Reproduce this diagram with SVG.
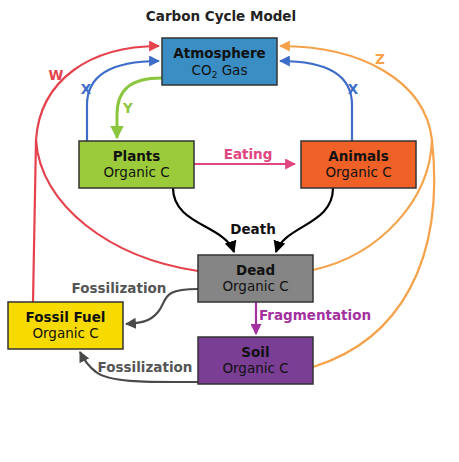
<svg xmlns="http://www.w3.org/2000/svg" width="459" height="462" viewBox="0 0 459 462">
<style>
text{font-family:"DejaVu Sans","Verdana",sans-serif;font-size:13.5px;text-anchor:middle}
.b{font-weight:bold}
.box{stroke:#333;stroke-width:1.5}
.c{fill:none;stroke-width:2.2}
</style>
<defs>
<marker id="mRed" viewBox="0 0 10 10" refX="9" refY="5" markerWidth="5" markerHeight="5" orient="auto" markerUnits="strokeWidth"><path d="M0,0L10,5L0,10z" fill="#E5424D"/></marker>
<marker id="mBlue" viewBox="0 0 10 10" refX="9" refY="5" markerWidth="5" markerHeight="5" orient="auto" markerUnits="strokeWidth"><path d="M0,0L10,5L0,10z" fill="#3D6DC8"/></marker>
<marker id="mGreen" viewBox="0 0 10 10" refX="9" refY="5" markerWidth="4.5" markerHeight="4.5" orient="auto" markerUnits="strokeWidth"><path d="M0,0L10,5L0,10z" fill="#8CC63F"/></marker>
<marker id="mOrange" viewBox="0 0 10 10" refX="9" refY="5" markerWidth="5" markerHeight="5" orient="auto" markerUnits="strokeWidth"><path d="M0,0L10,5L0,10z" fill="#F5A24A"/></marker>
<marker id="mPink" viewBox="0 0 10 10" refX="9" refY="5" markerWidth="5" markerHeight="5" orient="auto" markerUnits="strokeWidth"><path d="M0,0L10,5L0,10z" fill="#E0467F"/></marker>
<marker id="mBlack" viewBox="0 0 10 10" refX="9" refY="5" markerWidth="5.5" markerHeight="5.5" orient="auto" markerUnits="strokeWidth"><path d="M0,0L10,5L0,10z" fill="#000"/></marker>
<marker id="mGray" viewBox="0 0 10 10" refX="9" refY="5" markerWidth="5" markerHeight="5" orient="auto" markerUnits="strokeWidth"><path d="M0,0L10,5L0,10z" fill="#4A4A4A"/></marker>
<marker id="mPurple" viewBox="0 0 10 10" refX="9" refY="5" markerWidth="5" markerHeight="5" orient="auto" markerUnits="strokeWidth"><path d="M0,0L10,5L0,10z" fill="#A3319F"/></marker>
</defs>
<rect width="459" height="462" fill="#fff"/>
<text id="title" class="b" x="221" y="21" fill="#222">Carbon Cycle Model</text>
<g id="connectors">
  <path class="c" stroke="#E5424D" d="M33,302 L36,140 C40,80 90,46 159,46" marker-end="url(#mRed)"/>
  <path class="c" stroke="#E5424D" d="M198,271 C110,258 40,205 36,140"/>
  <text class="b" x="56" y="80" fill="#E5424D">W</text>
  <path class="c" stroke="#3D6DC8" d="M87,141 L87,105 C87,76 110,61 159,61" marker-end="url(#mBlue)"/>
  <path class="c" stroke="#3D6DC8" d="M352,141 L352,105 C352,76 329,61 280,61" marker-end="url(#mBlue)"/>
  <text class="b" x="86" y="94" fill="#3D6DC8">X</text>
  <text class="b" x="353" y="94" fill="#3D6DC8">X</text>
  <path fill="none" stroke="#8CC63F" stroke-width="3" d="M162,78 C130,78 117,90 117,115 L117,138" marker-end="url(#mGreen)"/>
  <text class="b" x="128" y="113" fill="#8CC63F">Y</text>
  <path class="c" stroke="#F5A24A" d="M432,140 C425,80 360,46 280,46" marker-end="url(#mOrange)"/>
  <path class="c" stroke="#F5A24A" d="M313,270 C380,255 430,200 432,140"/>
  <path class="c" stroke="#F5A24A" d="M313,367 C400,340 445,260 432,140"/>
  <text class="b" x="380" y="64" fill="#F5A24A">Z</text>
  <path class="c" stroke="#E0467F" d="M194,164 L295,164" marker-end="url(#mPink)"/>
  <text class="b" x="248" y="159" fill="#E0467F">Eating</text>
  <path class="c" stroke="#000" d="M173,188 C173,225 225,225 234,252" marker-end="url(#mBlack)"/>
  <path class="c" stroke="#000" d="M333,188 C333,225 285,225 276,252" marker-end="url(#mBlack)"/>
  <text class="b" x="253" y="234" fill="#111">Death</text>
  <path class="c" stroke="#4A4A4A" d="M198,289 C160,289 168,300 158,312 C150,322 140,323 126,324" marker-end="url(#mGray)"/>
  <text class="b" x="119" y="293" fill="#555">Fossilization</text>
  <path class="c" stroke="#A3319F" d="M256,302 L256,334" marker-end="url(#mPurple)"/>
  <text class="b" x="315" y="320" fill="#A3319F">Fragmentation</text>
  <path class="c" stroke="#4A4A4A" d="M198,382 C150,382 110,383 96,372 C88,366 84,360 80,352" marker-end="url(#mGray)"/>
  <text class="b" x="145" y="372" fill="#555">Fossilization</text>
</g>
<g id="atmosphere">
  <rect class="box" x="162" y="38" width="115" height="47" fill="#3A8EC3"/>
  <text class="b" x="219.5" y="58" fill="#111">Atmosphere</text>
  <text x="219.5" y="75" fill="#111">CO<tspan font-size="9" dy="3">2</tspan><tspan dy="-3"> Gas</tspan></text>
</g>
<g id="plants">
  <rect class="box" x="79" y="141" width="115" height="47" fill="#9BCB3B"/>
  <text class="b" x="136.5" y="161" fill="#111">Plants</text>
  <text x="136.5" y="177" fill="#111">Organic C</text>
</g>
<g id="animals">
  <rect class="box" x="301" y="141" width="115" height="47" fill="#EF6127"/>
  <text class="b" x="358.5" y="161" fill="#111">Animals</text>
  <text x="358.5" y="177" fill="#111">Organic C</text>
</g>
<g id="dead">
  <rect class="box" x="198" y="255" width="115" height="47" fill="#858585"/>
  <text class="b" x="255.5" y="275" fill="#111">Dead</text>
  <text x="255.5" y="291" fill="#111">Organic C</text>
</g>
<g id="fossil">
  <rect class="box" x="8" y="302" width="115" height="47" fill="#F7DA00"/>
  <text class="b" x="65.5" y="322" fill="#111">Fossil Fuel</text>
  <text x="65.5" y="338" fill="#111">Organic C</text>
</g>
<g id="soil">
  <rect class="box" x="198" y="337" width="115" height="47" fill="#7A3E94"/>
  <text class="b" x="255.5" y="357" fill="#111">Soil</text>
  <text x="255.5" y="373" fill="#111">Organic C</text>
</g>
</svg>
